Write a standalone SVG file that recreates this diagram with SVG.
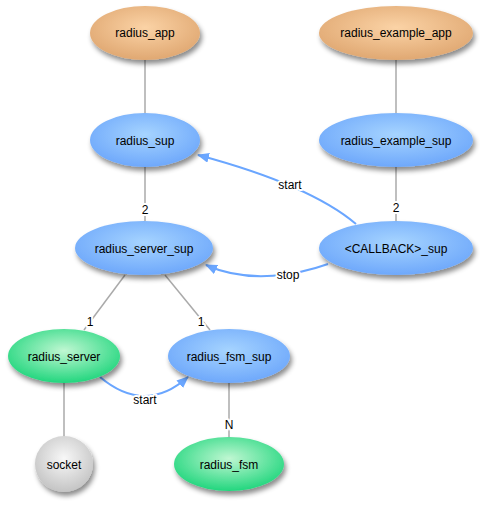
<svg xmlns="http://www.w3.org/2000/svg" width="482" height="505" viewBox="0 0 482 505">
<defs>
<radialGradient id="gOrange" cx="50%" cy="40%" r="60%"><stop offset="0" stop-color="#fbd3a6"/><stop offset="1" stop-color="#e0a872"/></radialGradient>
<radialGradient id="gBlue" cx="50%" cy="40%" r="60%"><stop offset="0" stop-color="#a6d4ff"/><stop offset="1" stop-color="#6ea8fb"/></radialGradient>
<radialGradient id="gGreen" cx="50%" cy="40%" r="60%"><stop offset="0" stop-color="#c0f7d2"/><stop offset="1" stop-color="#22d67e"/></radialGradient>
<radialGradient id="gGray" cx="50%" cy="40%" r="60%"><stop offset="0" stop-color="#f8f8f8"/><stop offset="1" stop-color="#c4c4c4"/></radialGradient>
<filter id="sh" x="-20%" y="-20%" width="140%" height="160%"><feDropShadow dx="2" dy="4" stdDeviation="2.5" flood-color="#000" flood-opacity="0.45"/></filter>
<marker id="arr" viewBox="0 0 12 10" refX="11" refY="5" markerWidth="12" markerHeight="10" markerUnits="userSpaceOnUse" orient="auto"><path d="M0,0 L12,5 L0,10 Z" fill="#6aa6ff"/></marker>
<style>
.n ellipse{filter:url(#sh)}
.o{fill:url(#gOrange)}
.b{fill:url(#gBlue)}
.g{fill:url(#gGreen)}
.s{fill:url(#gGray)}
text{font-family:"Liberation Sans",Arial,sans-serif;font-size:12px;fill:#000;text-anchor:middle}
.l{stroke:#aaaaaa;stroke-width:1.5;fill:none}
.a{stroke:#6aa6ff;stroke-width:2;fill:none;marker-end:url(#arr)}
.el{paint-order:stroke;stroke:#fff;stroke-width:4px;stroke-linejoin:round}
</style>
</defs>
<g id="connectors">
<line class="l" x1="145" y1="60" x2="145" y2="113"/>
<line class="l" x1="396" y1="60" x2="396" y2="113"/>
<line class="l" x1="145" y1="167" x2="145" y2="221"/>
<line class="l" x1="396" y1="167" x2="396" y2="221"/>
<line class="l" x1="125" y1="275" x2="84" y2="330"/>
<line class="l" x1="165" y1="275" x2="210" y2="330"/>
<line class="l" x1="64" y1="383" x2="64" y2="437"/>
<line class="l" x1="229" y1="383" x2="229" y2="437"/>
<path class="a" d="M356,224 Q310,185 198,155"/>
<path class="a" d="M328,264 C300,274 250,285 206,265"/>
<path class="a" d="M100,377 Q145,415 188,377"/>
<text class="el" x="145" y="214">2</text>
<text class="el" x="396" y="212">2</text>
<text class="el" x="90" y="326">1</text>
<text class="el" x="201" y="326">1</text>
<text class="el" x="229" y="429">N</text>
<text class="el" x="290" y="189">start</text>
<text class="el" x="288" y="279">stop</text>
<text class="el" x="145" y="404">start</text>
</g>
<g id="radius_app" class="n"><ellipse class="o" cx="145" cy="33" rx="55" ry="27"/><text x="145" y="37">radius_app</text></g>
<g id="radius_example_app" class="n"><ellipse class="o" cx="396" cy="33" rx="77" ry="27"/><text x="396" y="37">radius_example_app</text></g>
<g id="radius_sup" class="n"><ellipse class="b" cx="145" cy="140" rx="55" ry="27"/><text x="145" y="145">radius_sup</text></g>
<g id="radius_example_sup" class="n"><ellipse class="b" cx="396" cy="140" rx="77" ry="27"/><text x="396" y="145">radius_example_sup</text></g>
<g id="radius_server_sup" class="n"><ellipse class="b" cx="144" cy="248" rx="69" ry="27"/><text x="144" y="253">radius_server_sup</text></g>
<g id="callback_sup" class="n"><ellipse class="b" cx="396" cy="248" rx="77" ry="27"/><text x="396" y="253">&lt;CALLBACK&gt;_sup</text></g>
<g id="radius_server" class="n"><ellipse class="g" cx="64" cy="356" rx="56" ry="27"/><text x="64" y="361">radius_server</text></g>
<g id="radius_fsm_sup" class="n"><ellipse class="b" cx="229" cy="356" rx="61" ry="27"/><text x="229" y="361">radius_fsm_sup</text></g>
<g id="socket" class="n"><ellipse class="s" cx="64" cy="464" rx="29" ry="28"/><text x="64" y="469">socket</text></g>
<g id="radius_fsm" class="n"><ellipse class="g" cx="229" cy="464" rx="55" ry="27"/><text x="229" y="469">radius_fsm</text></g>
</svg>
